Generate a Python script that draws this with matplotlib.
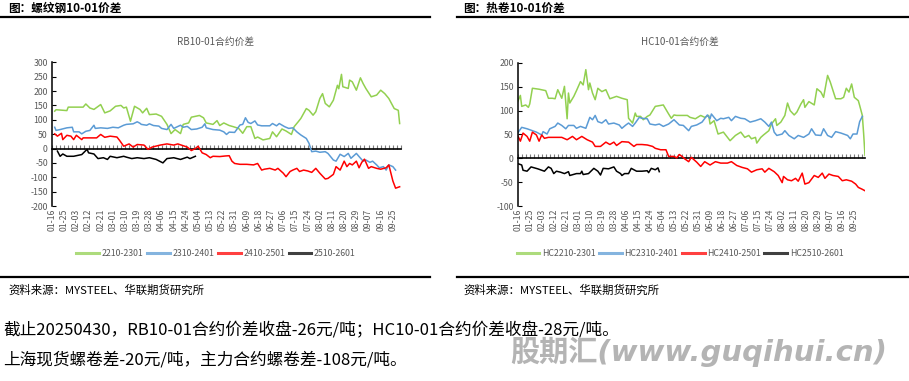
import numpy as np
import matplotlib
matplotlib.use("Agg")
import matplotlib.pyplot as plt
from matplotlib.lines import Line2D

plt.rcParams['font.family'] = ['Noto Sans CJK SC', 'DejaVu Sans']
plt.rcParams['axes.unicode_minus'] = False

# 日期刻度（按自然日偏移，01-16 为 0）
date_labels = ['01-16', '01-25', '02-03', '02-12', '02-21', '03-01', '03-10', '03-19',
               '03-28', '04-06', '04-15', '04-24', '05-04', '05-13', '05-22', '05-31',
               '06-09', '06-18', '06-27', '07-06', '07-15', '07-24', '08-02', '08-11',
               '08-20', '08-29', '09-07', '09-16', '09-25']

# ---- 螺纹钢 RB ----
rb_2210_x = [2, 3, 11, 12, 23, 25, 28, 31, 36, 39, 43, 47, 51, 53, 55, 58, 61, 65, 67, 70, 72, 77,
             81, 85, 88, 91, 95, 97, 101, 103, 109, 112, 114, 119, 122, 124, 127, 131, 134, 138,
             141, 144, 147, 150, 152, 156, 161, 163, 166, 170, 173, 177, 179, 182, 184, 188, 190,
             193, 195, 198, 200, 202, 205, 208, 211, 212, 214, 215, 219, 220, 222, 225, 228, 230,
             232, 236, 240, 243, 246, 249, 253, 256, 257]
rb_2210_y = [130, 135, 132, 144, 144, 155, 141, 136, 153, 124, 131, 147, 150, 141, 144, 95, 147, 136,
             124, 140, 118, 120, 112, 84, 52, 66, 52, 84, 89, 109, 115, 107, 89, 84, 97, 80, 89, 80,
             76, 70, 53, 76, 76, 35, 40, 30, 35, 58, 41, 68, 61, 49, 76, 93, 105, 139, 133, 116,
             128, 174, 191, 157, 145, 168, 220, 208, 258, 215, 209, 238, 232, 203, 246, 226, 209,
             180, 186, 203, 191, 174, 139, 133, 87]

rb_2310_x = [2, 3, 6, 11, 15, 16, 20, 22, 25, 28, 31, 32, 36, 41, 45, 49, 53, 55, 60, 63, 65, 66,
             70, 72, 75, 79, 81, 85, 88, 90, 95, 97, 100, 103, 107, 111, 113, 114, 119, 124, 127,
             129, 131, 135, 139, 141, 143, 145, 147, 150, 152, 155, 159, 161, 163, 166, 168, 172,
             175, 178, 181, 184, 188, 190, 192, 195, 198, 202, 204, 208, 210, 213, 216, 219, 221,
             225, 227, 230, 232, 235, 237, 240, 242, 245, 247, 249, 252, 254]
rb_2310_y = [74, 63, 66, 72, 74, 58, 58, 51, 60, 63, 81, 70, 72, 70, 74, 72, 81, 84, 86, 93, 88, 84,
             81, 86, 80, 78, 70, 66, 84, 70, 81, 74, 77, 66, 68, 74, 86, 72, 66, 64, 58, 49, 57,
             56, 82, 84, 107, 91, 87, 96, 82, 79, 79, 79, 87, 79, 87, 76, 70, 72, 58, 47, 35, 18,
             -11, -9, -13, -11, -17, -40, -44, -20, -28, -17, -34, -17, -28, -44, -40, -48, -44,
             -57, -67, -63, -75, -57, -63, -75]

rb_2410_x = [2, 4, 7, 8, 11, 14, 16, 18, 22, 23, 27, 33, 36, 39, 43, 48, 50, 53, 57, 60, 63, 68,
             71, 74, 80, 85, 90, 93, 100, 103, 106, 108, 111, 114, 117, 119, 124, 128, 131, 133,
             135, 139, 144, 149, 152, 155, 157, 161, 165, 167, 171, 173, 176, 178, 181, 183, 186,
             189, 192, 195, 198, 202, 204, 208, 210, 213, 216, 218, 220, 222, 225, 227, 229, 231,
             234, 236, 240, 243, 247, 249, 252, 254, 257]
rb_2410_y = [51, 43, 53, 31, 46, 43, 31, 46, 31, 37, 37, 37, 49, 39, 43, 40, 28, 8, 16, 5, 14, 12,
             -3, 5, 12, 16, 12, 16, 5, -7, 0, 8, -15, -21, -32, -27, -28, -26, -25, -44, -52, -55,
             -55, -57, -52, -75, -72, -69, -75, -69, -86, -98, -80, -75, -69, -80, -75, -78, -83,
             -69, -86, -106, -104, -90, -63, -75, -44, -63, -52, -57, -44, -67, -48, -37, -69, -63,
             -69, -72, -67, -57, -113, -138, -133]

rb_2510_x = [4, 6, 8, 11, 16, 22, 25, 26, 27, 31, 34, 38, 41, 43, 48, 53, 55, 59, 63, 68, 72, 77,
             82, 85, 90, 95, 100, 102, 106]
rb_2510_y = [-9, -27, -19, -27, -27, -21, -7, -3, -15, -19, -35, -32, -38, -27, -32, -27, -30, -35,
             -32, -35, -32, -38, -50, -35, -32, -38, -30, -35, -27]

# ---- 热卷 HC ----
hc_2210_x = [0, 2, 3, 6, 8, 9, 11, 16, 21, 23, 26, 28, 30, 33, 35, 37, 38, 39, 42, 44, 47, 49, 51,
             53, 54, 56, 58, 60, 63, 66, 69, 74, 78, 82, 83, 86, 88, 89, 92, 94, 97, 99, 103, 109,
             113, 115, 117, 119, 122, 127, 129, 133, 137, 140, 143, 144, 147, 150, 154, 159, 163,
             167, 170, 173, 175, 178, 179, 182, 184, 188, 190, 193, 194, 197, 200, 202, 204, 207,
             209, 212, 214, 215, 218, 222, 224, 227, 229, 232, 234, 238, 242, 244, 246, 248, 250,
             252, 255, 256, 258, 259, 260]
hc_2210_y = [119, 132, 109, 112, 107, 114, 147, 145, 142, 126, 126, 125, 144, 126, 151, 83, 137, 116,
             130, 142, 161, 154, 186, 144, 158, 137, 123, 147, 140, 144, 125, 130, 126, 123, 84, 74,
             95, 88, 88, 81, 88, 91, 109, 112, 93, 84, 91, 90, 90, 90, 86, 83, 90, 86, 90, 72, 79,
             51, 55, 37, 48, 55, 44, 48, 41, 44, 32, 44, 49, 58, 72, 83, 69, 76, 90, 116, 100, 91,
             97, 114, 123, 107, 119, 112, 146, 139, 128, 174, 160, 125, 125, 128, 147, 139, 156,
             128, 121, 111, 90, 51, 6]

hc_2310_x = [0, 3, 7, 11, 14, 18, 19, 22, 24, 28, 30, 33, 36, 38, 42, 44, 47, 51, 54, 56, 58, 60,
             63, 66, 68, 72, 76, 78, 81, 83, 86, 88, 91, 93, 97, 99, 103, 106, 109, 113, 117, 121,
             124, 128, 130, 134, 138, 142, 144, 145, 149, 152, 154, 158, 160, 163, 167, 170, 174,
             178, 182, 185, 188, 190, 192, 194, 198, 200, 203, 207, 210, 214, 218, 220, 223, 227,
             229, 232, 235, 238, 242, 244, 247, 249, 251, 254, 256, 258]
hc_2310_y = [53, 65, 62, 58, 55, 49, 56, 51, 62, 67, 74, 69, 62, 69, 69, 63, 67, 63, 86, 81, 90, 77,
             74, 81, 72, 74, 70, 63, 70, 74, 67, 74, 86, 84, 83, 72, 70, 72, 67, 72, 81, 70, 69, 58,
             67, 70, 76, 91, 83, 93, 79, 84, 83, 86, 79, 88, 84, 83, 76, 79, 83, 76, 67, 76, 55, 48,
             51, 58, 48, 41, 48, 44, 51, 62, 49, 48, 62, 48, 44, 56, 53, 51, 48, 41, 51, 51, 77, 88]

hc_2410_x = [0, 2, 4, 7, 9, 11, 14, 16, 18, 20, 23, 28, 33, 37, 41, 44, 48, 52, 56, 58, 62, 66, 69,
             72, 74, 78, 83, 87, 89, 93, 97, 101, 103, 107, 111, 113, 117, 119, 121, 123, 125, 128,
             130, 134, 137, 140, 144, 148, 152, 157, 160, 164, 168, 172, 175, 179, 183, 185, 188,
             192, 195, 198, 199, 202, 205, 208, 210, 213, 215, 218, 222, 225, 228, 230, 233, 236,
             240, 243, 246, 250, 253, 255, 258, 260]
hc_2410_y = [48, 36, 53, 46, 36, 55, 49, 36, 49, 42, 44, 44, 44, 39, 46, 39, 46, 39, 34, 25, 25, 34,
             29, 34, 27, 35, 34, 25, 29, 29, 28, 25, 21, 18, 18, 4, 4, 1, 8, 4, -1, -7, 2, -8, -17,
             -7, -14, -7, -10, -10, -7, -15, -19, -22, -29, -24, -22, -29, -21, -28, -36, -51, -38,
             -45, -47, -42, -48, -31, -54, -51, -36, -40, -31, -42, -33, -36, -38, -47, -45, -48,
             -54, -61, -65, -68]

hc_2510_x = [0, 3, 4, 7, 10, 15, 20, 23, 25, 27, 29, 32, 35, 38, 39, 44, 47, 48, 49, 53, 57, 60,
             62, 64, 68, 72, 74, 77, 78, 80, 83, 85, 89, 93, 97, 98, 100, 103, 105, 106]
hc_2510_y = [-11, -14, -25, -27, -18, -22, -27, -18, -21, -32, -27, -29, -32, -28, -36, -32, -32,
             -27, -34, -32, -21, -27, -35, -21, -22, -18, -27, -32, -36, -32, -32, -21, -27, -27,
             -26, -30, -21, -24, -20, -28]

colors = ['#92D050', '#5B9BD5', '#FF0000', '#000000']
label_color = '#595959'

W, H = 909, 381
fig = plt.figure(figsize=(W / 100, H / 100), dpi=100)


def draw_panel(rect, xmax, ylim, yticks, series, names, title):
    ax = fig.add_axes(rect)
    for (xs, ys), name, c in zip(series, names, colors):
        ax.plot(xs, ys, color=c, lw=1.1, label=name)
    ax.set_xlim(0, xmax)
    ax.set_ylim(*ylim)
    ax.set_yticks(yticks)
    ax.set_xticks(np.arange(len(date_labels)) * 9)
    ax.set_xticklabels(date_labels, rotation=90)
    for s in ['top', 'right', 'bottom']:
        ax.spines[s].set_visible(False)
    ax.spines['left'].set_color('black')
    ax.spines['left'].set_linewidth(1.1)
    ax.tick_params(axis='y', direction='in', length=3, labelsize=6.3,
                   labelcolor=label_color, pad=3)
    ax.tick_params(axis='x', length=0, labelsize=6.3, labelcolor=label_color, pad=2)
    # 横轴位于 0 处
    sec = ax.secondary_xaxis(0, transform=ax.transData)
    sec.set_xticks(np.arange(0, xmax + 1, 3))
    sec.tick_params(direction='in', length=3, color='#7F7F7F', width=0.8,
                    labelbottom=False)
    sec.spines['bottom'].set_color('black')
    sec.spines['bottom'].set_linewidth(1.2)
    return ax


rb_series = [(rb_2210_x, rb_2210_y), (rb_2310_x, rb_2310_y),
             (rb_2410_x, rb_2410_y), (rb_2510_x, rb_2510_y)]
hc_series = [(hc_2210_x, hc_2210_y), (hc_2310_x, hc_2310_y),
             (hc_2410_x, hc_2410_y), (hc_2510_x, hc_2510_y)]
rb_names = ['2210-2301', '2310-2401', '2410-2501', '2510-2601']
hc_names = ['HC2210-2301', 'HC2310-2401', 'HC2410-2501', 'HC2510-2601']

ax1 = draw_panel([52 / W, 1 - 206 / H, 349 / W, 143.7 / H], 258, (-200, 300),
                 np.arange(-200, 301, 50), rb_series, rb_names, 'RB10-01合约价差')
ax2 = draw_panel([517.7 / W, 1 - 206 / H, 347.3 / W, 143 / H], 260, (-100, 200),
                 np.arange(-100, 201, 50), hc_series, hc_names, 'HC10-01合约价差')

# 图表标题
fig.text(216 / W, 1 - 42 / H, 'RB10-01合约价差', ha='center', va='center',
         fontsize=7, color=label_color)
fig.text(680 / W, 1 - 42 / H, 'HC10-01合约价差', ha='center', va='center',
         fontsize=7, color=label_color)

# 图例
for ax, cx in [(ax1, 216), (ax2, 680)]:
    h, l = ax.get_legend_handles_labels()
    h = [Line2D([0], [0], color=hh.get_color(), lw=2.2, alpha=0.75) for hh in h]
    fig.legend(h, l, loc='center', bbox_to_anchor=(cx / W, 1 - 254 / H), ncol=4,
               frameon=False, fontsize=6.3, handlelength=2.6, handletextpad=0.3,
               columnspacing=0.4, labelcolor=label_color)

# 页眉、分隔线和资料来源
fig.text(8 / W, 1 - 8 / H, '图：螺纹钢10-01价差', ha='left', va='center',
         fontsize=8.4, fontweight='bold')
fig.text(463 / W, 1 - 8 / H, '图：热卷10-01价差', ha='left', va='center',
         fontsize=8.4, fontweight='bold')
for x0, x1 in [(0, 430), (457, 909)]:
    for yy in [17, 277]:
        fig.add_artist(Line2D([x0 / W, x1 / W], [1 - yy / H] * 2, color='black', lw=1.6))
fig.text(8 / W, 1 - 290 / H, '资料来源：MYSTEEL、华联期货研究所', ha='left', va='center',
         fontsize=8.2)
fig.text(463 / W, 1 - 290 / H, '资料来源：MYSTEEL、华联期货研究所', ha='left', va='center',
         fontsize=8.2)

# 正文
fig.text(3 / W, 1 - 331 / H,
         '截止20250430，RB10-01合约价差收盘-26元/吨；HC10-01合约价差收盘-28元/吨。',
         ha='left', va='center', fontsize=12)
fig.text(3 / W, 1 - 360 / H, '上海现货螺卷差-20元/吨，主力合约螺卷差-108元/吨。',
         ha='left', va='center', fontsize=12)

# 水印
fig.text(510 / W, 1 - 352 / H, '股期汇(www.guqihui.cn)', ha='left', va='center',
         fontsize=21, fontweight='bold', style='italic', color='#B4B4B4',
         family=['DejaVu Sans', 'Noto Sans CJK SC'])

fig.savefig('out.png', dpi=100)
